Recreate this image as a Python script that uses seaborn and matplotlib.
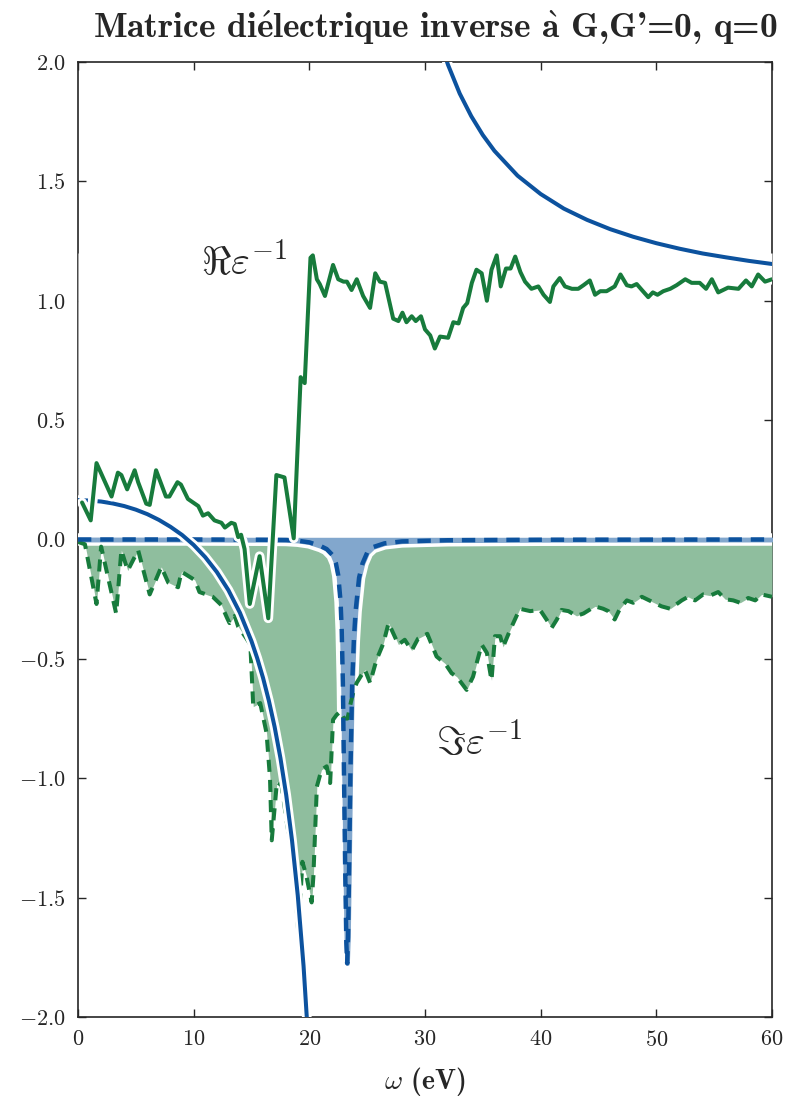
import matplotlib
matplotlib.use("Agg")
import matplotlib.pyplot as plt
import matplotlib.patheffects as pe
import seaborn as sns

# Real part of the computed inverse dielectric function (eV, value)
re_x = [0.35, 0.6, 1.1, 1.6, 2.9, 3.45, 3.75, 4.25, 4.9, 5.2, 5.9, 6.2, 6.75, 7.6, 7.9, 8.6, 8.9, 9.5,
        10.4, 10.8, 11.25, 11.8, 12.4, 12.7, 13.25, 13.55, 13.85, 14.1, 14.4, 14.85, 15.7, 16.45, 17.15,
        17.85, 18.65, 19.25, 19.6, 20.1, 20.3, 20.65, 20.9, 21.35, 22.05, 22.5, 22.95, 23.25, 23.65,
        24.1, 24.65, 25.25, 25.7, 26.1, 26.55, 27.25, 27.7, 28.05, 28.4, 28.85, 29.2, 29.65, 30.0,
        30.45, 30.85, 31.3, 32.0, 32.45, 32.9, 33.3, 33.65, 34.05, 34.45, 34.9, 35.35, 35.75, 36.2,
        36.55, 37.0, 37.4, 37.8, 38.25, 38.65, 39.2, 39.8, 40.25, 40.8, 41.1, 41.65, 42.1, 42.7, 43.25,
        43.7, 44.25, 44.7, 45.15, 45.7, 46.4, 46.9, 47.45, 47.85, 48.3, 48.75, 49.3, 49.7, 50.1, 50.6,
        51.2, 51.75, 52.5, 53.05, 53.75, 54.3, 54.8, 55.35, 56.2, 57.1, 57.75, 58.25, 58.8, 59.4, 60.0]
re_y = [0.155, 0.13, 0.08, 0.32, 0.18, 0.28, 0.27, 0.21, 0.29, 0.24, 0.15, 0.145, 0.29, 0.18, 0.18,
        0.24, 0.23, 0.17, 0.14, 0.10, 0.11, 0.08, 0.07, 0.05, 0.07, 0.065, 0.01, 0.02, -0.04, -0.27,
        -0.07, -0.33, 0.27, 0.26, 0.005, 0.68, 0.655, 1.18, 1.19, 1.09, 1.07, 1.02, 1.15, 1.09, 1.08,
        1.08, 1.045, 1.09, 1.02, 0.97, 1.115, 1.08, 1.075, 0.925, 0.915, 0.95, 0.91, 0.935, 0.915,
        0.935, 0.88, 0.855, 0.80, 0.85, 0.845, 0.91, 0.905, 0.97, 0.99, 1.075, 1.13, 1.115, 1.0, 1.13,
        1.19, 1.06, 1.135, 1.135, 1.185, 1.12, 1.08, 1.05, 1.06, 1.025, 0.995, 1.06, 1.095, 1.06, 1.05,
        1.05, 1.065, 1.085, 1.025, 1.04, 1.04, 1.06, 1.11, 1.065, 1.06, 1.07, 1.045, 1.015, 1.035,
        1.025, 1.04, 1.05, 1.065, 1.09, 1.075, 1.075, 1.05, 1.09, 1.035, 1.055, 1.05, 1.085, 1.06,
        1.11, 1.08, 1.09]

# Imaginary part of the computed inverse dielectric function
im_x = [0.0, 0.6, 1.6, 2.0, 3.3, 3.75, 4.3, 5.2, 6.2, 7.2, 7.8, 8.65, 8.95, 10.1, 10.5, 11.65, 12.4,
        12.9, 13.1, 13.55, 13.85, 14.5, 14.9, 15.15, 15.75, 16.3, 16.6, 16.75, 17.2, 17.6, 18.1, 18.6,
        19.05, 19.4, 19.75, 20.2, 20.35, 20.65, 21.05, 21.5, 21.8, 22.05, 22.35, 22.7, 23.0, 23.3,
        23.6, 23.85, 24.1, 24.8, 25.25, 25.8, 26.4, 26.85, 27.7, 28.25, 28.85, 29.4, 30.2, 31.0, 31.75,
        32.3, 32.75, 33.6, 34.15, 34.9, 35.35, 35.75, 36.05, 36.5, 36.75, 37.35, 38.2, 39.1, 39.95,
        40.5, 40.95, 41.4, 41.8, 42.4, 43.1, 43.7, 44.7, 45.4, 45.85, 46.4, 46.85, 47.45, 48.0, 48.75,
        49.6, 50.45, 51.2, 52.2, 52.75, 53.35, 54.05, 54.65, 55.35, 55.95, 56.65, 57.25, 57.95, 58.55,
        59.1, 60.0]
im_y = [-0.01, -0.02, -0.27, -0.03, -0.31, -0.045, -0.13, -0.045, -0.23, -0.115, -0.18, -0.2, -0.135,
        -0.17, -0.22, -0.24, -0.275, -0.33, -0.35, -0.32, -0.365, -0.41, -0.44, -0.70, -0.685, -0.81,
        -1.0, -1.26, -1.015, -1.03, -1.2, -1.34, -1.65, -1.35, -1.41, -1.52, -1.41, -1.035, -0.965,
        -0.95, -1.02, -0.755, -0.735, -0.72, -0.75, -0.75, -0.68, -0.63, -0.60, -0.545, -0.60, -0.505,
        -0.435, -0.35, -0.44, -0.42, -0.465, -0.415, -0.395, -0.49, -0.52, -0.56, -0.575, -0.63,
        -0.575, -0.44, -0.475, -0.59, -0.405, -0.405, -0.45, -0.38, -0.29, -0.30, -0.295, -0.335,
        -0.37, -0.335, -0.295, -0.30, -0.32, -0.31, -0.28, -0.29, -0.30, -0.335, -0.29, -0.255, -0.265,
        -0.24, -0.26, -0.28, -0.29, -0.255, -0.24, -0.255, -0.23, -0.235, -0.22, -0.25, -0.255, -0.265,
        -0.245, -0.255, -0.23, -0.24]

# Single-oscillator model: real part, below and above the plasmon pole
model_re_lo_x = [0, 1, 2, 3, 4, 5, 6, 7, 8, 9, 10, 11, 12, 13, 14, 15, 15.5, 16, 16.5, 17, 17.5, 18,
                 18.5, 19, 19.5, 20]
model_re_lo_y = [0.165, 0.163, 0.159, 0.151, 0.140, 0.125, 0.106, 0.082, 0.053, 0.019, -0.023, -0.074,
                 -0.136, -0.212, -0.307, -0.426, -0.498, -0.580, -0.675, -0.785, -0.915, -1.070,
                 -1.259, -1.491, -1.786, -2.171]
model_re_hi_x = [31, 31.5, 32, 33, 34, 35, 36, 38, 40, 42, 44, 46, 48, 50, 52, 54, 56, 58, 60]
model_re_hi_y = [2.137, 2.057, 1.987, 1.868, 1.773, 1.694, 1.628, 1.524, 1.447, 1.386, 1.339, 1.300,
                 1.268, 1.241, 1.218, 1.198, 1.182, 1.167, 1.154]

# Single-oscillator model: imaginary part (plasmon peak)
model_im_x = [0, 10, 16, 18, 19, 20, 21, 21.5, 22, 22.3, 22.5, 22.7, 22.8, 22.9, 23.0, 23.1, 23.2,
              23.27, 23.35, 23.4, 23.45, 23.55, 23.7, 23.85, 24.0, 24.3, 24.6, 25.0, 25.5, 26.5, 28,
              32, 40, 60]
model_im_y = [0.0, 0.0, -0.001, -0.002, -0.005, -0.012, -0.028, -0.04, -0.065, -0.10, -0.15, -0.26,
              -0.38, -0.60, -1.0, -1.38, -1.69, -1.775, -1.664, -1.51, -1.33, -0.98, -0.61, -0.42,
              -0.30, -0.16, -0.10, -0.055, -0.032, -0.016, -0.008, -0.003, -0.001, 0.0]

title = r"Matrice di$\mathbf{\acute{e}}$lectrique inverse $\mathbf{\grave{a}}$ G,G'=0, q=0"
x_ticks = [0, 10, 20, 30, 40, 50, 60]
y_ticks = [-2.0, -1.5, -1.0, -0.5, 0.0, 0.5, 1.0, 1.5, 2.0]

GREEN = "#177b3c"
BLUE = "#0c529e"
FILL_GREEN = "#8fbe9e"
FILL_BLUE = "#82a7cd"

sns.set_style("ticks")
plt.rcParams.update({
    "font.family": ["cmr10", "DejaVu Serif"],
    "mathtext.fontset": "cm",
    "axes.formatter.use_mathtext": True,
    "axes.unicode_minus": True,
    "axes.linewidth": 1.2,
})

fig = plt.figure(figsize=(7.91, 10.99), dpi=100)
ax = fig.add_axes([78 / 791, 1 - 1017 / 1099, 694 / 791, 955 / 1099])

# white band masking the area above the real part
ax.fill_between([0.0] + re_x, [re_y[0] + 0.03] + re_y, 1.2, color="white", lw=0, zorder=2.6)

# loss function of the computation
ax.fill_between(im_x, im_y, 0, color=FILL_GREEN, lw=0, zorder=3)

# model peak with a white halo separating it from the computed one
ax.plot(model_im_x, model_im_y, color="white", lw=9, zorder=3.1, solid_joinstyle="round")
ax.fill_between(model_im_x, model_im_y, 0, facecolor=FILL_BLUE, edgecolor=FILL_BLUE, lw=3.2,
                zorder=3.2)

sns.lineplot(x=im_x, y=im_y, ax=ax, color=GREEN, lw=2.9, linestyle=(0, (3, 2)),
             estimator=None, zorder=3.3)
sns.lineplot(x=model_im_x, y=model_im_y, ax=ax, color=BLUE, lw=3.2, linestyle=(0, (3, 2)),
             estimator=None, zorder=3.4)

halo = [pe.Stroke(linewidth=7, foreground="white"), pe.Normal()]
sns.lineplot(x=model_re_lo_x, y=model_re_lo_y, ax=ax, color=BLUE, lw=2.9, estimator=None,
             path_effects=halo, zorder=3.5)
sns.lineplot(x=model_re_hi_x, y=model_re_hi_y, ax=ax, color=BLUE, lw=2.9, estimator=None,
             path_effects=halo, zorder=3.5)
sns.lineplot(x=re_x, y=re_y, ax=ax, color=GREEN, lw=2.9, estimator=None,
             path_effects=halo, zorder=3.6)

ax.text(14.4, 1.16, r"$\Re\varepsilon^{-1}$", fontsize=29, ha="center", va="center", zorder=5)
ax.text(34.7, -0.85, r"$\Im\varepsilon^{-1}$", fontsize=29, ha="center", va="center", zorder=5)

ax.set_xlim(0, 60)
ax.set_ylim(-2, 2)
ax.set_xticks(x_ticks)
ax.set_yticks(y_ticks)
ax.tick_params(direction="in", top=True, right=True, length=6, width=1, labelsize=16, pad=9)
ax.set_xlabel(r"$\omega$ (eV)", fontsize=20, family=["cmb10", "DejaVu Serif"], labelpad=11)
ax.set_ylabel("")

fig.text(435 / 791, 1 - 28 / 1099, title, ha="center", va="center", fontsize=25.5,
         family=["cmb10", "DejaVu Serif"])

fig.savefig("out.png", dpi=100)
